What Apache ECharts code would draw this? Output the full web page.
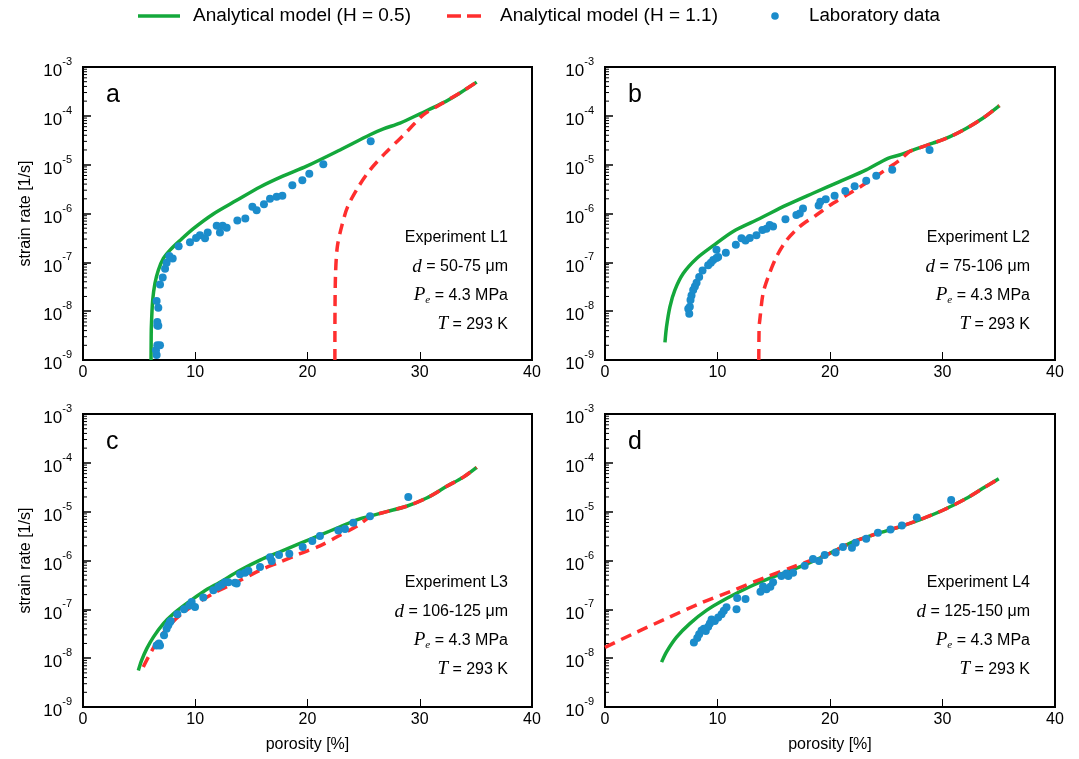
<!DOCTYPE html>
<html><head><meta charset="utf-8">
<script src="https://cdn.jsdelivr.net/npm/echarts@6/dist/echarts.min.js"></script>
<style>html,body{margin:0;padding:0;background:#fff}#c{width:1079px;height:759px}</style>
</head><body><div id="c"></div>
<script>
// ---------- text ----------
const seriesNames = ['Analytical model (H = 0.5)', 'Analytical model (H = 1.1)', 'Laboratory data'];
const panelLetters = ['a', 'b', 'c', 'd'];
const experiments = ['Experiment L1', 'Experiment L2', 'Experiment L3', 'Experiment L4'];
const grainSizes = ['50-75 μm', '75-106 μm', '106-125 μm', '125-150 μm'];
const pressureText = '4.3 MPa';
const temperatureText = '293 K';
const xAxisTitle = 'porosity [%]';
const yAxisTitle = 'strain rate [1/s]';
const xTickValues = [0, 10, 20, 30, 40];
const yTickExponents = [-9, -8, -7, -6, -5, -4, -3];

// ---------- panel a (L1) ----------
const greenA = [[6.06,1.0e-9],[6.07,2.0e-9],[6.09,4.8e-9],[6.21,1.7e-8],[6.41,3.7e-8],[6.71,6.9e-8],[7.16,1.2e-7],[7.75,1.78e-7],[8.64,2.8e-7],[9.83,4.9e-7],[11.61,9.8e-7],[13.69,1.86e-6],[15.77,3.5e-6],[17.85,5.9e-6],[19.93,9.3e-6],[22.9,2.0e-5],[25.57,4.1e-5],[26.76,5.4e-5],[28.24,7.1e-5],[30.02,1.1e-4],[32.1,1.86e-4],[33.59,2.95e-4],[35.07,4.9e-4]];
const redA = [[22.44,1.0e-9],[22.45,1.0e-8],[22.5,6.0e-8],[22.66,2.1e-7],[23.04,5.4e-7],[23.58,1.38e-6],[24.53,3.5e-6],[25.57,7.8e-6],[26.9,1.7e-5],[28.39,3.7e-5],[29.58,7.1e-5],[30.32,1.05e-4],[32.1,1.86e-4],[33.59,2.95e-4],[35.07,4.9e-4]];
const labA = [[6.56,1.26e-9],[6.50,1.58e-9],[6.62,2.0e-9],[6.86,2.0e-9],[6.62,5.1e-9],[6.71,5.0e-9],[6.62,6.0e-9],[6.71,1.17e-8],[6.56,1.62e-8],[6.86,3.5e-8],[7.10,4.9e-8],[7.31,7.4e-8],[7.45,9.8e-8],[7.69,1.35e-7],[7.99,1.2e-7],[8.52,2.14e-7],[9.53,2.57e-7],[10.07,3.16e-7],[10.42,3.6e-7],[10.87,3.1e-7],[11.11,4.1e-7],[11.91,5.6e-7],[12.2,4.1e-7],[12.44,5.6e-7],[12.8,5.1e-7],[13.75,7.2e-7],[14.46,7.9e-7],[15.09,1.38e-6],[15.47,1.17e-6],[16.12,1.55e-6],[16.66,2.0e-6],[17.25,2.2e-6],[17.76,2.3e-6],[18.65,3.8e-6],[19.54,4.8e-6],[20.16,6.5e-6],[21.41,1.02e-5],[25.63,3.0e-5]];

// ---------- panel b (L2) ----------
const greenB = [[5.33,2.3e-9],[5.47,4.8e-9],[5.77,1.23e-8],[6.21,2.7e-8],[6.95,5.9e-8],[8.14,1.2e-7],[9.62,2.2e-7],[11.39,4.3e-7],[13.76,7.9e-7],[16.12,1.48e-6],[18.49,2.6e-6],[20.86,4.5e-6],[23.22,7.8e-6],[25.15,1.35e-5],[26.18,1.58e-5],[27.66,2.1e-5],[29.14,2.75e-5],[30.62,3.7e-5],[32.1,5.5e-5],[33.58,8.9e-5],[35.06,1.62e-4]];
const redB = [[13.67,1.0e-9],[13.7,4.8e-9],[13.76,6.6e-9],[14.05,2.3e-8],[14.5,5.0e-8],[15.24,1.29e-7],[16.12,2.8e-7],[17.31,5.4e-7],[18.79,9.3e-7],[20.27,1.62e-6],[21.75,2.6e-6],[23.22,4.2e-6],[24.7,7.2e-6],[26.18,1.23e-5],[27.07,1.86e-5],[27.66,2.1e-5],[29.14,2.75e-5],[30.62,3.7e-5],[32.1,5.5e-5],[33.58,8.9e-5],[35.06,1.62e-4]];
const labB = [[7.49,8.9e-9],[7.40,1.12e-8],[7.54,1.23e-8],[7.60,1.7e-8],[7.69,2.1e-8],[7.84,2.7e-8],[7.99,3.2e-8],[8.14,3.8e-8],[8.37,5.0e-8],[8.67,6.8e-8],[9.17,8.7e-8],[9.41,9.8e-8],[9.62,1.12e-7],[9.91,1.23e-7],[10.06,1.29e-7],[9.91,1.82e-7],[10.74,1.58e-7],[11.63,2.3e-7],[12.13,3.1e-7],[12.49,2.8e-7],[12.87,3.16e-7],[13.46,3.6e-7],[13.99,4.6e-7],[14.35,4.9e-7],[14.64,5.8e-7],[14.94,5.4e-7],[16.04,7.6e-7],[17.01,9.3e-7],[17.31,1.0e-6],[17.6,1.26e-6],[18.99,1.45e-6],[19.14,1.74e-6],[19.62,1.95e-6],[20.41,2.3e-6],[21.36,2.9e-6],[22.19,3.6e-6],[23.22,4.7e-6],[24.11,5.9e-6],[25.53,7.9e-6],[28.85,2.0e-5]];

// ---------- panel c (L3) ----------
const greenC = [[4.93,5.6e-9],[5.23,9.1e-9],[5.67,1.55e-8],[6.27,2.7e-8],[7.16,5.1e-8],[8.05,8.1e-8],[9.24,1.32e-7],[10.72,2.3e-7],[12.2,3.6e-7],[13.99,6.3e-7],[15.77,1.02e-6],[17.55,1.51e-6],[19.33,2.24e-6],[21.11,3.3e-6],[22.9,4.9e-6],[24.38,6.8e-6],[25.57,8.1e-6],[27.05,1.0e-5],[28.83,1.29e-5],[30.62,1.9e-5],[32.4,3.3e-5],[33.88,5.1e-5],[35.07,8.1e-5]];
const redC = [[5.37,6.6e-9],[5.82,1.05e-8],[6.56,2.1e-8],[7.45,4.0e-8],[8.64,7.6e-8],[10.13,1.32e-7],[11.91,2.3e-7],[13.69,3.6e-7],[15.77,6.3e-7],[17.55,9.3e-7],[19.33,1.38e-6],[21.11,2.0e-6],[22.9,3.3e-6],[24.38,5.0e-6],[25.57,7.8e-6],[27.05,1.0e-5],[28.83,1.29e-5],[30.62,1.9e-5],[32.4,3.3e-5],[33.88,5.1e-5],[35.07,8.1e-5]];
const labC = [[6.56,1.82e-8],[6.86,1.82e-8],[6.77,2.0e-8],[7.22,2.95e-8],[7.45,4.0e-8],[7.60,4.7e-8],[7.75,5.5e-8],[7.81,5.8e-8],[8.40,7.9e-8],[9.0,1.0e-7],[9.47,1.2e-7],[9.68,1.41e-7],[9.98,1.12e-7],[10.72,1.74e-7],[11.61,2.45e-7],[12.06,2.9e-7],[12.35,3.2e-7],[12.65,3.6e-7],[12.95,3.6e-7],[13.54,3.5e-7],[13.69,3.4e-7],[13.99,5.2e-7],[14.43,5.6e-7],[14.73,6.2e-7],[15.77,7.4e-7],[16.66,1.17e-6],[16.81,9.8e-7],[17.46,1.29e-6],[18.38,1.38e-6],[19.57,1.9e-6],[20.43,2.5e-6],[21.11,3.16e-6],[22.75,4.1e-6],[23.34,4.4e-6],[24.08,5.9e-6],[25.57,8.1e-6],[28.98,2.0e-5]];

// ---------- panel d (L4) ----------
const greenD = [[5.03,8.3e-9],[5.47,1.35e-8],[6.36,2.7e-8],[7.54,5.1e-8],[9.02,9.5e-8],[10.8,1.66e-7],[12.87,2.9e-7],[14.94,4.6e-7],[17.31,7.4e-7],[19.67,1.29e-6],[22.04,2.4e-6],[24.11,3.5e-6],[26.18,4.9e-6],[27.96,6.8e-6],[30.03,1.07e-5],[32.1,1.86e-5],[33.58,3.0e-5],[35.0,4.7e-5]];
const redD = [[0,1.66e-8],[2.51,3.16e-8],[5.47,6.5e-8],[8.43,1.32e-7],[11.39,2.45e-7],[14.35,4.6e-7],[16.72,7.4e-7],[18.79,1.1e-6],[19.67,1.29e-6],[22.04,2.4e-6],[24.11,3.5e-6],[26.18,4.9e-6],[27.96,6.8e-6],[30.03,1.07e-5],[32.1,1.86e-5],[33.58,3.0e-5],[35.0,4.7e-5]];
const labD = [[7.90,2.1e-8],[8.20,2.6e-8],[8.37,3.1e-8],[8.58,3.7e-8],[8.79,4.0e-8],[8.96,3.6e-8],[9.17,4.4e-8],[9.32,5.1e-8],[9.47,6.2e-8],[9.76,5.8e-8],[10.06,6.8e-8],[10.36,7.9e-8],[10.56,9.3e-8],[10.80,1.1e-7],[11.69,1.0e-7],[11.75,1.7e-7],[12.49,1.62e-7],[13.82,2.3e-7],[14.05,2.95e-7],[14.35,2.57e-7],[14.70,2.9e-7],[14.94,3.6e-7],[15.68,4.8e-7],[16.12,5.4e-7],[16.30,4.8e-7],[16.72,5.6e-7],[17.75,7.8e-7],[18.49,1.07e-6],[19.02,9.8e-7],[19.53,1.29e-6],[20.50,1.45e-6],[21.15,1.9e-6],[21.95,1.82e-6],[22.28,2.3e-6],[23.22,2.8e-6],[24.26,3.7e-6],[25.38,4.3e-6],[26.39,5.2e-6],[27.72,7.6e-6],[30.77,1.74e-5]];

const greens = [greenA, greenB, greenC, greenD];
const reds = [redA, redB, redC, redD];
const labs = [labA, labB, labC, labD];

// ---------- layout / style ----------
const GREEN = '#14a83b', RED = '#ff2e2e', BLUE = '#1b8ccb';
const FONT = 'Liberation Sans, Arial, sans-serif';
const gridRects = [
  {left: 83, top: 67, width: 449, height: 293},
  {left: 605, top: 67, width: 450, height: 293},
  {left: 83, top: 414, width: 449, height: 293},
  {left: 605, top: 414, width: 450, height: 293}
];
const noteRight = [508, 1030, 508, 1030];
const noteTop = [238, 238, 583, 583];
const noteStep = 28.7;

// minor log ticks (2..9 in each decade)
const minorTicks = [];
for (let e = yTickExponents[0]; e < yTickExponents[yTickExponents.length - 1]; e++) {
  for (let k = 2; k <= 9; k++) minorTicks.push([0, k * Math.pow(10, e)]);
}

const grids = [], xAxes = [], yAxes = [], series = [], graphics = [];
gridRects.forEach((g, i) => {
  grids.push(Object.assign({show: true, borderColor: '#000', borderWidth: 2, backgroundColor: 'transparent'}, g));
  xAxes.push({
    type: 'value', gridIndex: i, min: xTickValues[0], max: xTickValues[xTickValues.length - 1],
    interval: xTickValues[1] - xTickValues[0],
    axisLine: {show: false}, splitLine: {show: false},
    axisTick: {show: true, inside: true, length: 8, lineStyle: {color: '#000', width: 1}},
    axisLabel: {color: '#000', fontSize: 16, fontFamily: FONT, margin: 5},
    name: i >= 2 ? xAxisTitle : '', nameLocation: 'middle', nameGap: 30,
    nameTextStyle: {color: '#000', fontSize: 16, fontFamily: FONT}
  });
  yAxes.push({
    type: 'log', logBase: 10, gridIndex: i,
    min: Math.pow(10, yTickExponents[0]), max: Math.pow(10, yTickExponents[yTickExponents.length - 1]),
    interval: 1,
    axisLine: {show: false}, splitLine: {show: false}, minorTick: {show: false},
    axisTick: {show: true, inside: true, length: 8, lineStyle: {color: '#000', width: 1.5}},
    axisLabel: {
      margin: 11, showMinLabel: true, showMaxLabel: true,
      formatter: v => '{b|10}{s|' + Math.round(Math.log10(v)) + '}',
      rich: {
        b: {fontSize: 17, color: '#000', fontFamily: FONT, padding: [9, 0, 0, 0]},
        s: {fontSize: 11, color: '#000', fontFamily: FONT, padding: [0, 0, 10, 0]}
      }
    },
    name: (i % 2 === 0) ? yAxisTitle : '', nameLocation: 'middle', nameGap: 49,
    nameTextStyle: {color: '#000', fontSize: 16, fontFamily: FONT}
  });
  series.push({
    type: 'custom', xAxisIndex: i, yAxisIndex: i, silent: true, data: minorTicks, z: 1,
    encode: {x: 0, y: 1},
    renderItem: (params, api) => {
      const p = api.coord([api.value(0), api.value(1)]);
      return {type: 'line', shape: {x1: p[0], y1: p[1], x2: p[0] + 4, y2: p[1]}, style: {stroke: '#000', lineWidth: 1}};
    }
  });
  series.push({
    name: seriesNames[0], type: 'line', xAxisIndex: i, yAxisIndex: i, data: greens[i],
    showSymbol: false, symbol: 'none', smooth: 0.3, z: 2,
    lineStyle: {color: GREEN, width: 3.5}, itemStyle: {color: GREEN}
  });
  series.push({
    name: seriesNames[1], type: 'line', xAxisIndex: i, yAxisIndex: i, data: reds[i],
    showSymbol: false, symbol: 'none', smooth: 0.3, z: 3,
    lineStyle: {color: RED, width: 3.5, type: [11, 7]}, itemStyle: {color: RED}
  });
  series.push({
    name: seriesNames[2], type: 'scatter', xAxisIndex: i, yAxisIndex: i, data: labs[i],
    symbol: 'circle', symbolSize: 8, z: 4, itemStyle: {color: BLUE, opacity: 1}
  });

  // panel letter
  graphics.push({type: 'text', x: g.left + 23, y: g.top + 28, silent: true,
    style: {text: panelLetters[i], fontSize: 25, fontFamily: FONT, fill: '#000', align: 'left', verticalAlign: 'middle'}});
  // annotations
  const lines = [
    experiments[i],
    '{it|d} = ' + grainSizes[i],
    '{it|P}{sub|e} = ' + pressureText,
    '{it|T} = ' + temperatureText
  ];
  lines.forEach((t, j) => {
    graphics.push({type: 'text', x: noteRight[i], y: noteTop[i] + j * noteStep, silent: true,
      style: {text: t, fontSize: 16, fontFamily: FONT, fill: '#000', align: 'right', verticalAlign: 'middle',
        rich: {
          it: {fontSize: 19, fontFamily: 'Liberation Serif, serif', fontStyle: 'italic', fill: '#000'},
          sub: {fontSize: 11, fontFamily: 'Liberation Serif, serif', fontStyle: 'italic', fill: '#000', padding: [9, 0, 0, 0]}
        }}});
  });
});

// ---------- legend ----------
const LEG_FONT = '18px "Liberation Sans"';
const legendTextX = [193, 500, 809];
const legendTextW = [218, 218, 131];
const legendY = 16;
const mctx = document.createElement('canvas').getContext('2d');
mctx.font = LEG_FONT;
seriesNames.forEach((name, k) => {
  const w = mctx.measureText(name).width;
  graphics.push({type: 'text', x: legendTextX[k], y: legendY, scaleX: legendTextW[k] / w, silent: true,
    style: {text: name, fontSize: 18, fontFamily: 'Liberation Sans', fill: '#000', align: 'left', verticalAlign: 'middle'}});
});
graphics.push({type: 'line', silent: true, shape: {x1: 138, y1: legendY, x2: 180, y2: legendY},
  style: {stroke: GREEN, lineWidth: 3.5}});
graphics.push({type: 'line', silent: true, shape: {x1: 447, y1: legendY, x2: 482, y2: legendY},
  style: {stroke: RED, lineWidth: 3.5, lineDash: [14, 6]}});
graphics.push({type: 'circle', silent: true, shape: {cx: 775, cy: legendY, r: 3.8},
  style: {fill: BLUE}});

const option = {
  animation: false,
  backgroundColor: '#fff',
  grid: grids, xAxis: xAxes, yAxis: yAxes, series: series,
  graphic: graphics
};
const chart = echarts.init(document.getElementById('c'), null, {renderer: 'canvas'});
chart.setOption(option);
</script></body></html>
